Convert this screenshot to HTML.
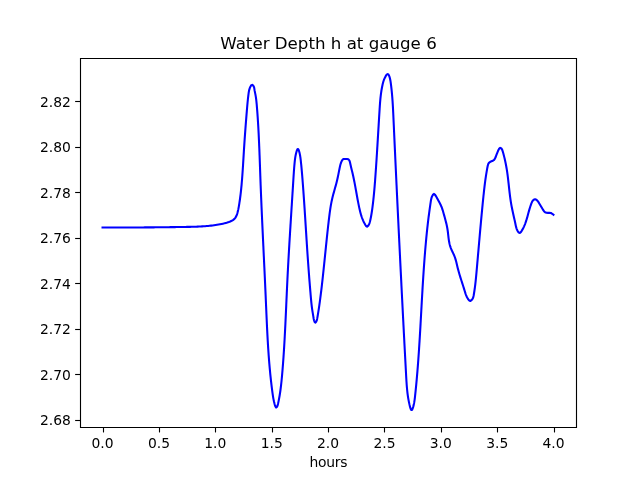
<!DOCTYPE html>
<html lang="en"><head><meta charset="utf-8"><title>Water Depth h at gauge 6</title>
<style>
html,body{margin:0;padding:0;background:#fff;overflow:hidden}
svg{display:block;will-change:transform}
text{font-family:"DejaVu Sans","Liberation Sans",sans-serif}
</style></head><body>
<svg width="640" height="480" viewBox="0 0 640 480">
<rect x="0" y="0" width="640" height="480" fill="#fff"/>
<path d="M102.54 227.50 L104.05 227.50 L105.56 227.51 L107.07 227.51 L108.58 227.51 L110.09 227.51 L111.60 227.51 L113.11 227.51 L114.62 227.51 L116.13 227.51 L117.64 227.51 L119.15 227.51 L120.66 227.51 L122.17 227.50 L123.67 227.50 L125.18 227.50 L126.69 227.49 L128.20 227.49 L129.71 227.49 L131.21 227.48 L132.72 227.47 L134.23 227.47 L135.73 227.46 L137.24 227.45 L138.75 227.45 L140.25 227.44 L141.76 227.43 L143.27 227.42 L144.78 227.41 L146.28 227.40 L147.79 227.39 L149.30 227.38 L150.80 227.37 L152.31 227.36 L153.82 227.34 L155.32 227.33 L156.83 227.31 L158.34 227.30 L159.85 227.28 L161.35 227.27 L162.86 227.25 L164.37 227.24 L165.88 227.22 L167.38 227.20 L168.89 227.18 L170.40 227.16 L171.91 227.14 L173.42 227.12 L174.93 227.10 L176.44 227.08 L177.95 227.05 L179.46 227.03 L180.97 227.01 L182.48 226.98 L183.99 226.96 L185.50 226.93 L187.01 226.90 L188.52 226.87 L190.03 226.84 L191.54 226.81 L193.05 226.77 L194.56 226.72 L196.07 226.67 L197.58 226.61 L199.09 226.54 L200.60 226.47 L202.10 226.38 L203.61 226.29 L205.11 226.18 L206.61 226.06 L208.11 225.92 L209.60 225.77 L211.10 225.61 L212.59 225.43 L214.08 225.24 L215.57 225.02 L217.05 224.79 L218.53 224.54 L220.01 224.27 L221.49 223.97 L222.96 223.65 L224.42 223.30 L225.89 222.90 L227.35 222.47 L228.81 221.98 L230.26 221.43 L231.66 220.80 L232.96 220.06 L234.13 219.17 L235.11 218.11 L235.91 216.88 L236.56 215.52 L237.08 214.09 L237.52 212.61 L237.90 211.12 L238.24 209.64 L238.54 208.15 L238.81 206.67 L239.06 205.19 L239.30 203.70 L239.52 202.21 L239.74 200.73 L239.95 199.24 L240.14 197.75 L240.34 196.26 L240.52 194.76 L240.70 193.27 L240.87 191.77 L241.03 190.28 L241.18 188.78 L241.33 187.28 L241.48 185.78 L241.62 184.28 L241.75 182.78 L241.88 181.27 L242.01 179.77 L242.13 178.27 L242.24 176.76 L242.36 175.26 L242.46 173.75 L242.57 172.24 L242.67 170.74 L242.77 169.23 L242.87 167.72 L242.97 166.22 L243.06 164.71 L243.15 163.20 L243.25 161.69 L243.34 160.18 L243.43 158.68 L243.52 157.17 L243.61 155.66 L243.70 154.15 L243.79 152.65 L243.88 151.14 L243.98 149.63 L244.07 148.13 L244.17 146.62 L244.27 145.12 L244.36 143.61 L244.47 142.11 L244.57 140.60 L244.67 139.10 L244.77 137.60 L244.88 136.09 L244.99 134.59 L245.10 133.09 L245.21 131.58 L245.32 130.08 L245.43 128.58 L245.54 127.07 L245.66 125.57 L245.77 124.07 L245.89 122.57 L246.01 121.06 L246.13 119.56 L246.25 118.06 L246.37 116.56 L246.49 115.05 L246.61 113.55 L246.74 112.04 L246.86 110.54 L246.99 109.04 L247.12 107.53 L247.25 106.03 L247.38 104.53 L247.52 103.02 L247.67 101.52 L247.82 100.02 L247.97 98.52 L248.14 97.02 L248.31 95.53 L248.50 94.04 L248.70 92.55 L248.96 91.06 L249.30 89.59 L249.77 88.13 L250.40 86.70 L251.23 85.31 L252.33 84.87 L253.49 86.00 L254.11 87.45 L254.36 88.93 L254.58 90.41 L254.88 91.89 L255.19 93.37 L255.49 94.86 L255.75 96.35 L255.98 97.84 L256.18 99.33 L256.36 100.83 L256.51 102.33 L256.66 103.83 L256.79 105.33 L256.91 106.83 L257.03 108.33 L257.15 109.84 L257.27 111.34 L257.38 112.84 L257.49 114.35 L257.59 115.85 L257.70 117.35 L257.80 118.86 L257.89 120.36 L257.99 121.87 L258.08 123.37 L258.17 124.88 L258.26 126.38 L258.34 127.89 L258.42 129.39 L258.50 130.90 L258.58 132.41 L258.66 133.91 L258.73 135.42 L258.80 136.92 L258.87 138.43 L258.94 139.94 L259.01 141.44 L259.08 142.95 L259.14 144.46 L259.20 145.97 L259.27 147.47 L259.33 148.98 L259.39 150.49 L259.45 152.00 L259.50 153.50 L259.56 155.01 L259.62 156.52 L259.67 158.03 L259.73 159.54 L259.78 161.04 L259.84 162.55 L259.89 164.06 L259.94 165.57 L260.00 167.08 L260.05 168.58 L260.10 170.09 L260.16 171.60 L260.21 173.11 L260.26 174.62 L260.32 176.12 L260.37 177.63 L260.43 179.14 L260.48 180.65 L260.54 182.15 L260.59 183.66 L260.65 185.17 L260.71 186.68 L260.77 188.18 L260.83 189.69 L260.89 191.20 L260.95 192.71 L261.01 194.21 L261.07 195.72 L261.13 197.23 L261.20 198.73 L261.26 200.24 L261.32 201.75 L261.39 203.25 L261.45 204.76 L261.51 206.27 L261.58 207.77 L261.64 209.28 L261.71 210.79 L261.78 212.29 L261.84 213.80 L261.91 215.30 L261.98 216.81 L262.05 218.32 L262.11 219.82 L262.18 221.33 L262.25 222.84 L262.32 224.34 L262.39 225.85 L262.46 227.35 L262.53 228.86 L262.60 230.37 L262.67 231.87 L262.74 233.38 L262.81 234.89 L262.88 236.39 L262.95 237.90 L263.02 239.40 L263.09 240.91 L263.16 242.42 L263.23 243.92 L263.30 245.43 L263.38 246.93 L263.45 248.44 L263.52 249.95 L263.59 251.45 L263.66 252.96 L263.73 254.47 L263.80 255.97 L263.88 257.48 L263.95 258.98 L264.02 260.49 L264.09 262.00 L264.16 263.50 L264.23 265.01 L264.30 266.52 L264.38 268.02 L264.45 269.53 L264.52 271.04 L264.59 272.54 L264.66 274.05 L264.73 275.56 L264.80 277.06 L264.87 278.57 L264.94 280.08 L265.01 281.59 L265.08 283.09 L265.15 284.60 L265.21 286.11 L265.28 287.61 L265.35 289.12 L265.42 290.63 L265.49 292.14 L265.55 293.64 L265.62 295.15 L265.69 296.66 L265.75 298.17 L265.82 299.68 L265.88 301.18 L265.95 302.69 L266.01 304.20 L266.08 305.71 L266.14 307.22 L266.21 308.73 L266.27 310.23 L266.34 311.74 L266.40 313.25 L266.47 314.76 L266.53 316.27 L266.60 317.78 L266.67 319.28 L266.74 320.79 L266.80 322.30 L266.87 323.81 L266.94 325.32 L267.01 326.83 L267.09 328.33 L267.16 329.84 L267.24 331.35 L267.31 332.86 L267.39 334.36 L267.47 335.87 L267.55 337.38 L267.63 338.88 L267.72 340.39 L267.81 341.90 L267.89 343.40 L267.98 344.91 L268.08 346.41 L268.17 347.92 L268.27 349.42 L268.37 350.93 L268.47 352.43 L268.58 353.94 L268.68 355.44 L268.79 356.94 L268.91 358.45 L269.02 359.95 L269.14 361.45 L269.26 362.95 L269.39 364.45 L269.52 365.95 L269.65 367.45 L269.79 368.95 L269.93 370.45 L270.07 371.95 L270.21 373.45 L270.36 374.95 L270.52 376.45 L270.68 377.94 L270.84 379.44 L271.00 380.94 L271.18 382.43 L271.35 383.93 L271.53 385.42 L271.71 386.91 L271.90 388.41 L272.09 389.90 L272.29 391.39 L272.49 392.88 L272.70 394.37 L272.92 395.87 L273.16 397.36 L273.42 398.85 L273.72 400.34 L274.04 401.84 L274.41 403.34 L274.83 404.85 L275.37 406.42 L276.17 407.53 L277.05 406.75 L277.61 405.45 L277.99 403.94 L278.33 402.39 L278.65 400.86 L278.95 399.32 L279.24 397.80 L279.51 396.28 L279.76 394.76 L280.00 393.25 L280.22 391.74 L280.44 390.23 L280.64 388.73 L280.83 387.23 L281.01 385.74 L281.18 384.24 L281.34 382.75 L281.50 381.26 L281.64 379.76 L281.79 378.27 L281.93 376.78 L282.06 375.29 L282.19 373.80 L282.32 372.30 L282.45 370.81 L282.57 369.31 L282.69 367.82 L282.81 366.32 L282.93 364.83 L283.04 363.33 L283.15 361.83 L283.26 360.33 L283.37 358.83 L283.48 357.33 L283.58 355.83 L283.68 354.33 L283.78 352.82 L283.88 351.32 L283.97 349.82 L284.07 348.31 L284.16 346.81 L284.25 345.31 L284.34 343.80 L284.43 342.30 L284.51 340.79 L284.60 339.28 L284.68 337.78 L284.76 336.27 L284.84 334.76 L284.92 333.25 L285.00 331.75 L285.08 330.24 L285.15 328.73 L285.23 327.22 L285.30 325.71 L285.38 324.20 L285.45 322.69 L285.52 321.18 L285.59 319.67 L285.66 318.16 L285.73 316.65 L285.80 315.14 L285.87 313.63 L285.94 312.12 L286.00 310.61 L286.07 309.10 L286.14 307.59 L286.21 306.08 L286.27 304.57 L286.34 303.06 L286.41 301.55 L286.47 300.04 L286.54 298.53 L286.61 297.02 L286.68 295.51 L286.74 294.00 L286.81 292.49 L286.88 290.99 L286.95 289.48 L287.02 287.97 L287.09 286.46 L287.16 284.95 L287.23 283.45 L287.30 281.94 L287.37 280.43 L287.45 278.93 L287.52 277.42 L287.60 275.92 L287.67 274.41 L287.75 272.91 L287.83 271.40 L287.91 269.90 L287.98 268.40 L288.06 266.89 L288.14 265.39 L288.23 263.89 L288.31 262.38 L288.39 260.88 L288.47 259.38 L288.56 257.88 L288.64 256.37 L288.73 254.87 L288.81 253.37 L288.90 251.87 L288.98 250.37 L289.07 248.86 L289.16 247.36 L289.25 245.86 L289.34 244.36 L289.42 242.86 L289.51 241.36 L289.60 239.85 L289.69 238.35 L289.79 236.85 L289.88 235.35 L289.97 233.85 L290.06 232.34 L290.15 230.84 L290.24 229.34 L290.34 227.84 L290.43 226.33 L290.52 224.83 L290.62 223.33 L290.71 221.82 L290.81 220.32 L290.90 218.81 L290.99 217.31 L291.09 215.81 L291.18 214.30 L291.28 212.79 L291.37 211.29 L291.47 209.78 L291.56 208.28 L291.66 206.77 L291.76 205.26 L291.85 203.75 L291.95 202.24 L292.04 200.73 L292.14 199.22 L292.23 197.71 L292.33 196.20 L292.42 194.69 L292.52 193.18 L292.62 191.67 L292.71 190.15 L292.81 188.64 L292.90 187.12 L293.00 185.61 L293.09 184.09 L293.18 182.58 L293.28 181.06 L293.37 179.54 L293.47 178.02 L293.56 176.50 L293.66 174.99 L293.76 173.48 L293.86 171.97 L293.96 170.47 L294.08 168.97 L294.19 167.49 L294.32 166.01 L294.45 164.54 L294.58 163.09 L294.73 161.65 L294.89 160.22 L295.06 158.80 L295.26 157.36 L295.52 155.86 L295.85 154.25 L296.29 152.50 L296.83 150.66 L297.45 149.26 L298.09 148.98 L298.70 150.02 L299.25 151.78 L299.70 153.60 L300.04 155.26 L300.30 156.80 L300.51 158.26 L300.68 159.68 L300.84 161.10 L300.99 162.54 L301.14 163.99 L301.29 165.45 L301.43 166.92 L301.57 168.40 L301.70 169.89 L301.83 171.39 L301.96 172.90 L302.09 174.41 L302.22 175.92 L302.34 177.43 L302.46 178.95 L302.58 180.47 L302.70 181.98 L302.81 183.50 L302.93 185.01 L303.04 186.52 L303.15 188.04 L303.27 189.55 L303.38 191.06 L303.48 192.57 L303.59 194.08 L303.70 195.59 L303.80 197.10 L303.91 198.61 L304.01 200.11 L304.11 201.62 L304.22 203.13 L304.32 204.63 L304.42 206.14 L304.52 207.64 L304.62 209.15 L304.72 210.65 L304.81 212.15 L304.91 213.66 L305.01 215.16 L305.10 216.66 L305.20 218.17 L305.30 219.67 L305.39 221.17 L305.49 222.67 L305.58 224.17 L305.68 225.68 L305.77 227.18 L305.87 228.68 L305.96 230.18 L306.06 231.68 L306.15 233.18 L306.25 234.68 L306.34 236.18 L306.44 237.69 L306.53 239.19 L306.63 240.69 L306.73 242.19 L306.82 243.69 L306.92 245.19 L307.02 246.69 L307.12 248.20 L307.22 249.70 L307.32 251.20 L307.42 252.70 L307.52 254.21 L307.62 255.71 L307.73 257.21 L307.83 258.72 L307.94 260.22 L308.04 261.73 L308.15 263.23 L308.26 264.74 L308.37 266.24 L308.48 267.75 L308.59 269.26 L308.70 270.77 L308.81 272.28 L308.93 273.78 L309.05 275.29 L309.16 276.80 L309.28 278.31 L309.40 279.82 L309.52 281.33 L309.65 282.84 L309.77 284.34 L309.89 285.85 L310.01 287.36 L310.14 288.86 L310.26 290.36 L310.39 291.87 L310.52 293.37 L310.64 294.87 L310.77 296.37 L310.90 297.86 L311.04 299.36 L311.18 300.85 L311.32 302.35 L311.48 303.84 L311.65 305.34 L311.83 306.84 L312.03 308.33 L312.25 309.83 L312.48 311.34 L312.73 312.83 L312.98 314.33 L313.22 315.81 L313.45 317.27 L313.68 318.73 L314.01 320.28 L314.59 322.04 L315.45 322.72 L316.23 321.72 L316.77 320.40 L317.13 318.90 L317.42 317.33 L317.69 315.76 L317.95 314.20 L318.20 312.66 L318.44 311.13 L318.68 309.61 L318.91 308.09 L319.13 306.59 L319.35 305.09 L319.56 303.60 L319.77 302.11 L319.97 300.63 L320.17 299.15 L320.36 297.67 L320.55 296.19 L320.74 294.71 L320.92 293.23 L321.10 291.75 L321.28 290.27 L321.46 288.78 L321.64 287.29 L321.81 285.81 L321.98 284.32 L322.15 282.83 L322.32 281.33 L322.49 279.84 L322.65 278.35 L322.82 276.85 L322.98 275.36 L323.14 273.86 L323.30 272.36 L323.46 270.86 L323.62 269.36 L323.77 267.86 L323.93 266.36 L324.09 264.86 L324.24 263.36 L324.40 261.85 L324.55 260.35 L324.70 258.85 L324.86 257.34 L325.01 255.84 L325.16 254.33 L325.32 252.83 L325.47 251.32 L325.62 249.82 L325.78 248.31 L325.93 246.81 L326.08 245.30 L326.24 243.80 L326.39 242.29 L326.55 240.79 L326.71 239.28 L326.86 237.78 L327.02 236.27 L327.18 234.77 L327.34 233.27 L327.50 231.76 L327.67 230.26 L327.83 228.76 L328.00 227.26 L328.16 225.76 L328.33 224.26 L328.50 222.76 L328.67 221.26 L328.85 219.76 L329.03 218.27 L329.21 216.77 L329.39 215.28 L329.58 213.79 L329.78 212.30 L329.99 210.81 L330.21 209.32 L330.44 207.84 L330.68 206.36 L330.93 204.88 L331.21 203.40 L331.49 201.92 L331.80 200.45 L332.13 198.98 L332.47 197.52 L332.84 196.05 L333.22 194.59 L333.62 193.14 L334.02 191.68 L334.43 190.22 L334.84 188.77 L335.25 187.31 L335.66 185.85 L336.05 184.40 L336.44 182.94 L336.81 181.47 L337.17 180.01 L337.51 178.54 L337.83 177.07 L338.13 175.59 L338.43 174.12 L338.72 172.64 L339.01 171.16 L339.30 169.68 L339.60 168.19 L339.91 166.71 L340.25 165.24 L340.66 163.79 L341.15 162.36 L341.76 160.97 L342.52 159.66 L343.71 158.98 L345.35 159.00 L346.90 158.92 L348.29 159.29 L349.34 160.37 L349.86 161.80 L350.19 163.30 L350.53 164.77 L350.87 166.23 L351.21 167.69 L351.57 169.16 L351.92 170.62 L352.27 172.09 L352.62 173.56 L352.96 175.03 L353.29 176.50 L353.60 177.98 L353.91 179.46 L354.21 180.93 L354.50 182.41 L354.78 183.89 L355.06 185.37 L355.34 186.85 L355.60 188.34 L355.87 189.82 L356.14 191.30 L356.40 192.79 L356.67 194.27 L356.93 195.75 L357.20 197.23 L357.47 198.72 L357.75 200.20 L358.03 201.68 L358.31 203.16 L358.61 204.64 L358.91 206.12 L359.22 207.60 L359.55 209.07 L359.89 210.54 L360.25 212.00 L360.64 213.46 L361.06 214.91 L361.52 216.35 L362.02 217.78 L362.56 219.19 L363.14 220.59 L363.78 221.97 L364.48 223.34 L365.24 224.69 L366.06 226.01 L367.06 226.62 L368.26 225.63 L369.11 224.22 L369.61 222.83 L369.99 221.41 L370.33 219.96 L370.65 218.48 L370.95 216.99 L371.22 215.51 L371.48 214.02 L371.72 212.52 L371.95 211.03 L372.16 209.54 L372.36 208.04 L372.56 206.54 L372.74 205.05 L372.93 203.55 L373.10 202.05 L373.27 200.56 L373.43 199.06 L373.59 197.56 L373.74 196.06 L373.89 194.56 L374.04 193.06 L374.17 191.56 L374.31 190.06 L374.44 188.56 L374.57 187.06 L374.69 185.55 L374.81 184.05 L374.93 182.55 L375.05 181.05 L375.16 179.54 L375.27 178.04 L375.38 176.54 L375.49 175.03 L375.60 173.53 L375.70 172.02 L375.81 170.52 L375.91 169.01 L376.02 167.51 L376.12 166.00 L376.22 164.50 L376.32 162.99 L376.42 161.48 L376.52 159.98 L376.61 158.47 L376.71 156.96 L376.80 155.46 L376.90 153.95 L376.99 152.45 L377.09 150.94 L377.18 149.43 L377.27 147.93 L377.37 146.42 L377.46 144.91 L377.55 143.41 L377.64 141.90 L377.73 140.39 L377.82 138.89 L377.91 137.38 L378.00 135.88 L378.09 134.37 L378.18 132.87 L378.27 131.36 L378.36 129.86 L378.45 128.35 L378.54 126.85 L378.63 125.34 L378.72 123.84 L378.81 122.34 L378.90 120.84 L378.99 119.33 L379.08 117.83 L379.17 116.33 L379.26 114.83 L379.36 113.33 L379.45 111.83 L379.54 110.33 L379.63 108.83 L379.73 107.33 L379.83 105.83 L379.93 104.33 L380.04 102.83 L380.17 101.33 L380.30 99.83 L380.44 98.32 L380.60 96.81 L380.77 95.30 L380.96 93.79 L381.17 92.27 L381.40 90.75 L381.66 89.22 L381.94 87.70 L382.24 86.20 L382.55 84.74 L382.89 83.34 L383.23 82.02 L383.63 80.75 L384.12 79.41 L384.79 77.90 L385.67 76.19 L386.69 74.69 L387.69 74.01 L388.55 74.63 L389.24 76.10 L389.76 77.67 L390.14 79.20 L390.42 80.70 L390.65 82.19 L390.85 83.68 L391.05 85.17 L391.23 86.66 L391.40 88.15 L391.57 89.64 L391.72 91.14 L391.87 92.64 L392.00 94.13 L392.13 95.63 L392.26 97.13 L392.37 98.64 L392.48 100.14 L392.59 101.64 L392.68 103.15 L392.78 104.66 L392.87 106.16 L392.95 107.67 L393.03 109.18 L393.11 110.68 L393.18 112.19 L393.26 113.70 L393.33 115.21 L393.40 116.72 L393.47 118.23 L393.53 119.74 L393.60 121.25 L393.67 122.76 L393.74 124.27 L393.81 125.78 L393.88 127.28 L393.94 128.79 L394.01 130.30 L394.08 131.81 L394.15 133.32 L394.22 134.83 L394.29 136.33 L394.36 137.84 L394.43 139.35 L394.49 140.86 L394.56 142.37 L394.63 143.87 L394.70 145.38 L394.77 146.89 L394.84 148.39 L394.91 149.90 L394.98 151.41 L395.05 152.92 L395.12 154.42 L395.19 155.93 L395.26 157.44 L395.33 158.94 L395.40 160.45 L395.47 161.96 L395.54 163.46 L395.61 164.97 L395.68 166.48 L395.75 167.98 L395.82 169.49 L395.89 170.99 L395.96 172.50 L396.03 174.01 L396.10 175.51 L396.17 177.02 L396.24 178.52 L396.31 180.03 L396.38 181.54 L396.45 183.04 L396.52 184.55 L396.60 186.05 L396.67 187.56 L396.74 189.06 L396.81 190.57 L396.88 192.07 L396.95 193.58 L397.02 195.09 L397.10 196.59 L397.17 198.10 L397.24 199.60 L397.31 201.11 L397.38 202.61 L397.45 204.12 L397.53 205.62 L397.60 207.13 L397.67 208.63 L397.74 210.14 L397.81 211.64 L397.89 213.15 L397.96 214.65 L398.03 216.16 L398.10 217.66 L398.18 219.17 L398.25 220.68 L398.32 222.18 L398.40 223.69 L398.47 225.19 L398.54 226.70 L398.61 228.20 L398.69 229.71 L398.76 231.21 L398.83 232.72 L398.91 234.22 L398.98 235.73 L399.05 237.23 L399.13 238.74 L399.20 240.25 L399.27 241.75 L399.35 243.26 L399.42 244.76 L399.50 246.27 L399.57 247.77 L399.64 249.28 L399.72 250.79 L399.79 252.29 L399.87 253.80 L399.94 255.30 L400.02 256.81 L400.09 258.32 L400.16 259.82 L400.24 261.33 L400.31 262.83 L400.39 264.34 L400.46 265.85 L400.54 267.35 L400.61 268.86 L400.69 270.37 L400.76 271.87 L400.84 273.38 L400.91 274.89 L400.99 276.39 L401.07 277.90 L401.14 279.41 L401.22 280.92 L401.29 282.42 L401.37 283.93 L401.44 285.44 L401.52 286.95 L401.60 288.45 L401.67 289.96 L401.75 291.47 L401.82 292.98 L401.90 294.49 L401.98 295.99 L402.05 297.50 L402.13 299.01 L402.21 300.52 L402.28 302.03 L402.36 303.54 L402.44 305.04 L402.51 306.55 L402.59 308.06 L402.67 309.57 L402.75 311.08 L402.82 312.59 L402.90 314.09 L402.98 315.60 L403.05 317.11 L403.13 318.62 L403.21 320.13 L403.29 321.63 L403.37 323.14 L403.44 324.65 L403.52 326.16 L403.60 327.67 L403.68 329.17 L403.76 330.68 L403.83 332.19 L403.91 333.69 L403.99 335.20 L404.07 336.71 L404.15 338.21 L404.23 339.72 L404.31 341.23 L404.38 342.73 L404.46 344.24 L404.54 345.74 L404.62 347.25 L404.70 348.75 L404.78 350.26 L404.86 351.76 L404.94 353.26 L405.02 354.77 L405.10 356.27 L405.18 357.77 L405.26 359.28 L405.34 360.78 L405.42 362.28 L405.50 363.78 L405.58 365.28 L405.66 366.78 L405.74 368.28 L405.82 369.78 L405.90 371.28 L405.98 372.78 L406.06 374.28 L406.14 375.78 L406.22 377.28 L406.31 378.77 L406.39 380.27 L406.49 381.77 L406.59 383.27 L406.69 384.77 L406.81 386.27 L406.94 387.77 L407.08 389.27 L407.23 390.77 L407.40 392.28 L407.58 393.78 L407.78 395.29 L408.00 396.80 L408.24 398.31 L408.51 399.82 L408.79 401.34 L409.11 402.86 L409.44 404.38 L409.81 405.91 L410.20 407.43 L410.67 408.88 L411.32 409.99 L412.13 409.81 L412.79 408.14 L413.27 406.61 L413.66 405.13 L413.98 403.65 L414.26 402.16 L414.50 400.67 L414.71 399.17 L414.89 397.68 L415.06 396.18 L415.22 394.68 L415.38 393.18 L415.54 391.68 L415.69 390.18 L415.84 388.68 L415.99 387.18 L416.14 385.68 L416.28 384.18 L416.42 382.68 L416.56 381.18 L416.70 379.68 L416.83 378.18 L416.96 376.68 L417.09 375.18 L417.22 373.68 L417.35 372.17 L417.47 370.67 L417.59 369.17 L417.71 367.67 L417.83 366.17 L417.94 364.67 L418.06 363.16 L418.17 361.66 L418.28 360.16 L418.39 358.66 L418.49 357.15 L418.60 355.65 L418.70 354.15 L418.81 352.64 L418.91 351.14 L419.01 349.64 L419.10 348.14 L419.20 346.63 L419.30 345.13 L419.39 343.62 L419.49 342.12 L419.58 340.62 L419.67 339.11 L419.76 337.61 L419.85 336.10 L419.94 334.60 L420.03 333.10 L420.12 331.59 L420.21 330.09 L420.29 328.58 L420.38 327.08 L420.46 325.57 L420.55 324.07 L420.63 322.56 L420.72 321.06 L420.80 319.55 L420.89 318.05 L420.97 316.54 L421.05 315.04 L421.14 313.53 L421.22 312.02 L421.30 310.52 L421.39 309.01 L421.47 307.51 L421.55 306.00 L421.64 304.50 L421.72 302.99 L421.80 301.48 L421.89 299.98 L421.97 298.47 L422.06 296.97 L422.14 295.46 L422.23 293.95 L422.32 292.45 L422.41 290.94 L422.49 289.43 L422.58 287.93 L422.67 286.42 L422.76 284.91 L422.86 283.41 L422.95 281.90 L423.04 280.39 L423.14 278.89 L423.23 277.38 L423.33 275.87 L423.43 274.37 L423.53 272.86 L423.63 271.35 L423.73 269.84 L423.83 268.34 L423.94 266.83 L424.04 265.32 L424.15 263.82 L424.26 262.31 L424.37 260.80 L424.49 259.29 L424.60 257.79 L424.72 256.28 L424.84 254.77 L424.96 253.27 L425.08 251.76 L425.20 250.25 L425.33 248.75 L425.46 247.24 L425.59 245.74 L425.73 244.23 L425.86 242.72 L426.00 241.22 L426.14 239.72 L426.28 238.21 L426.43 236.71 L426.58 235.21 L426.73 233.71 L426.88 232.20 L427.04 230.70 L427.20 229.20 L427.36 227.70 L427.53 226.21 L427.70 224.71 L427.87 223.21 L428.05 221.72 L428.23 220.22 L428.41 218.73 L428.59 217.24 L428.78 215.75 L428.97 214.26 L429.17 212.77 L429.37 211.28 L429.57 209.79 L429.78 208.31 L429.99 206.82 L430.21 205.34 L430.42 203.86 L430.65 202.38 L430.87 200.90 L431.13 199.42 L431.49 197.93 L432.04 196.41 L432.84 194.88 L433.87 193.92 L434.94 194.58 L435.91 196.06 L436.71 197.44 L437.41 198.73 L438.08 199.98 L438.77 201.26 L439.48 202.58 L440.19 203.93 L440.85 205.31 L441.46 206.71 L442.01 208.13 L442.49 209.57 L442.94 211.01 L443.35 212.46 L443.76 213.91 L444.17 215.36 L444.57 216.81 L444.97 218.26 L445.36 219.71 L445.74 221.17 L446.11 222.62 L446.46 224.09 L446.78 225.56 L447.08 227.03 L447.36 228.52 L447.60 230.01 L447.81 231.51 L448.00 233.02 L448.17 234.54 L448.34 236.05 L448.51 237.56 L448.70 239.07 L448.92 240.57 L449.17 242.06 L449.47 243.53 L449.82 244.99 L450.24 246.42 L450.74 247.84 L451.30 249.23 L451.92 250.60 L452.57 251.96 L453.22 253.33 L453.85 254.70 L454.43 256.09 L454.95 257.49 L455.41 258.92 L455.84 260.35 L456.23 261.80 L456.59 263.26 L456.94 264.72 L457.29 266.19 L457.64 267.66 L458.01 269.12 L458.40 270.58 L458.80 272.04 L459.22 273.49 L459.65 274.94 L460.09 276.38 L460.54 277.83 L461.00 279.27 L461.46 280.71 L461.93 282.15 L462.39 283.58 L462.85 285.02 L463.31 286.45 L463.76 287.89 L464.21 289.32 L464.64 290.75 L465.07 292.19 L465.53 293.61 L466.05 295.03 L466.63 296.42 L467.32 297.80 L468.13 299.14 L469.09 300.43 L470.26 300.99 L471.55 300.19 L472.56 298.88 L473.18 297.47 L473.56 295.99 L473.83 294.50 L474.07 293.00 L474.31 291.51 L474.53 290.01 L474.74 288.52 L474.94 287.03 L475.13 285.53 L475.31 284.04 L475.48 282.55 L475.65 281.06 L475.80 279.57 L475.95 278.07 L476.10 276.58 L476.24 275.09 L476.38 273.59 L476.52 272.10 L476.65 270.60 L476.78 269.10 L476.92 267.60 L477.05 266.11 L477.18 264.61 L477.31 263.10 L477.44 261.60 L477.58 260.10 L477.71 258.59 L477.84 257.09 L477.97 255.58 L478.10 254.08 L478.23 252.57 L478.37 251.06 L478.50 249.56 L478.63 248.05 L478.76 246.54 L478.89 245.03 L479.03 243.52 L479.16 242.02 L479.29 240.51 L479.43 239.00 L479.56 237.49 L479.69 235.98 L479.83 234.47 L479.96 232.96 L480.10 231.45 L480.23 229.95 L480.37 228.44 L480.50 226.93 L480.64 225.43 L480.78 223.92 L480.92 222.42 L481.05 220.91 L481.19 219.41 L481.33 217.90 L481.47 216.40 L481.61 214.90 L481.76 213.40 L481.90 211.90 L482.04 210.40 L482.19 208.91 L482.33 207.41 L482.48 205.92 L482.62 204.43 L482.77 202.93 L482.92 201.44 L483.07 199.96 L483.22 198.47 L483.37 196.98 L483.52 195.50 L483.68 194.02 L483.84 192.53 L484.00 191.05 L484.16 189.56 L484.34 188.08 L484.51 186.59 L484.69 185.11 L484.88 183.62 L485.07 182.13 L485.27 180.63 L485.48 179.14 L485.70 177.64 L485.92 176.13 L486.16 174.63 L486.40 173.11 L486.65 171.60 L486.92 170.08 L487.19 168.55 L487.48 167.02 L487.79 165.50 L488.23 164.07 L488.92 162.84 L490.00 161.94 L491.43 161.32 L492.91 160.73 L494.10 159.86 L494.94 158.66 L495.56 157.28 L496.09 155.84 L496.62 154.42 L497.17 153.03 L497.75 151.65 L498.34 150.26 L499.02 148.89 L500.19 147.91 L501.46 148.53 L502.23 149.88 L502.71 151.31 L503.14 152.75 L503.54 154.20 L503.92 155.66 L504.27 157.13 L504.62 158.59 L504.96 160.07 L505.28 161.54 L505.59 163.02 L505.89 164.50 L506.18 165.98 L506.44 167.46 L506.69 168.95 L506.93 170.43 L507.16 171.92 L507.37 173.41 L507.57 174.91 L507.76 176.40 L507.95 177.90 L508.12 179.39 L508.29 180.89 L508.46 182.39 L508.63 183.88 L508.79 185.38 L508.95 186.88 L509.12 188.38 L509.28 189.88 L509.45 191.38 L509.63 192.88 L509.81 194.37 L509.99 195.87 L510.19 197.37 L510.40 198.86 L510.61 200.36 L510.84 201.85 L511.09 203.34 L511.35 204.83 L511.62 206.32 L511.91 207.81 L512.21 209.29 L512.52 210.77 L512.85 212.25 L513.17 213.73 L513.50 215.21 L513.83 216.68 L514.17 218.15 L514.49 219.61 L514.82 221.07 L515.14 222.53 L515.44 223.99 L515.74 225.44 L516.06 226.89 L516.47 228.34 L517.03 229.79 L517.79 231.26 L518.79 232.58 L519.84 232.93 L520.83 232.13 L521.73 230.80 L522.55 229.39 L523.30 227.99 L523.97 226.58 L524.59 225.18 L525.15 223.77 L525.66 222.35 L526.14 220.94 L526.58 219.52 L527.00 218.09 L527.40 216.66 L527.80 215.22 L528.19 213.77 L528.59 212.32 L529.00 210.86 L529.42 209.40 L529.85 207.95 L530.31 206.51 L530.79 205.08 L531.30 203.66 L531.85 202.26 L532.54 200.93 L533.65 199.83 L535.08 199.30 L536.45 199.81 L537.59 200.91 L538.49 202.16 L539.27 203.44 L540.03 204.72 L540.78 205.99 L541.54 207.28 L542.31 208.59 L543.11 209.92 L543.99 211.20 L545.06 212.19 L546.41 212.72 L547.94 212.86 L549.49 212.85 L550.93 213.00 L552.25 213.78 L553.45 214.71" fill="none" stroke="#0000ff" stroke-width="2.083" stroke-linejoin="round" stroke-linecap="square"/>
<g stroke="#000" stroke-width="1.111" stroke-linecap="square" fill="none">
<path d="M80.5 58.5 L80.5 427.5 L576.5 427.5 L576.5 58.5 Z"/>
</g>
<g stroke="#000" stroke-width="1.111" stroke-linecap="butt" fill="none">
<path d="M103.5 427.2 L103.5 432.46"/>
<path d="M159.5 427.2 L159.5 432.46"/>
<path d="M215.5 427.2 L215.5 432.46"/>
<path d="M272.5 427.2 L272.5 432.46"/>
<path d="M328.5 427.2 L328.5 432.46"/>
<path d="M384.5 427.2 L384.5 432.46"/>
<path d="M441.5 427.2 L441.5 432.46"/>
<path d="M497.5 427.2 L497.5 432.46"/>
<path d="M554.5 427.2 L554.5 432.46"/>
<path d="M80.0 420.5 L75.14 420.5"/>
<path d="M80.0 374.5 L75.14 374.5"/>
<path d="M80.0 329.5 L75.14 329.5"/>
<path d="M80.0 283.5 L75.14 283.5"/>
<path d="M80.0 238.5 L75.14 238.5"/>
<path d="M80.0 192.5 L75.14 192.5"/>
<path d="M80.0 147.5 L75.14 147.5"/>
<path d="M80.0 101.5 L75.14 101.5"/>
</g>
<g font-size="13.89px" fill="#000" text-anchor="middle">
<text x="102.55" y="447.8">0.0</text>
<text x="158.93" y="447.8">0.5</text>
<text x="215.31" y="447.8">1.0</text>
<text x="271.69" y="447.8">1.5</text>
<text x="328.06" y="447.8">2.0</text>
<text x="384.45" y="447.8">2.5</text>
<text x="440.83" y="447.8">3.0</text>
<text x="497.21" y="447.8">3.5</text>
<text x="553.59" y="447.8">4.0</text>
<text x="328.3" y="466.6" letter-spacing="-0.25">hours</text>
</g>
<g font-size="13.89px" fill="#000" text-anchor="end">
<text x="70.88" y="425">2.68</text>
<text x="70.88" y="380">2.70</text>
<text x="70.88" y="334">2.72</text>
<text x="70.88" y="289">2.74</text>
<text x="70.88" y="243">2.76</text>
<text x="70.88" y="198">2.78</text>
<text x="70.88" y="152">2.80</text>
<text x="70.88" y="107">2.82</text>
</g>
<text x="328.5" y="48.9" font-size="16.67px" fill="#000" text-anchor="middle">Water Depth h at gauge 6</text>
</svg>
</body></html>
